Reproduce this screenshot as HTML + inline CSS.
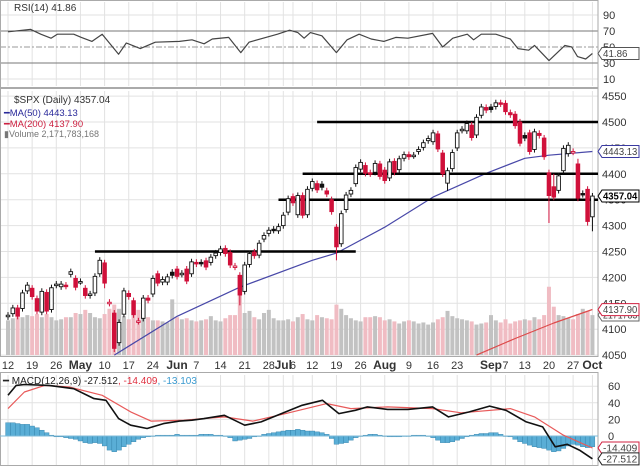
<!DOCTYPE html>
<html><head><meta charset="utf-8"><style>
html,body{margin:0;padding:0;background:#fff;}
svg{display:block;font-family:"Liberation Sans",sans-serif;}
</style></head><body>
<svg id="chart" width="640" height="466" viewBox="0 0 640 466" xmlns="http://www.w3.org/2000/svg">
<rect x="0" y="0" width="640" height="466" fill="#fff"/>
<g id="grid"></g>
<g id="vol"></g>
<g id="price"></g>
<g id="lines"></g>
<g id="labels"></g>
</svg>
<script>
const closes=[4127,4141,4125,4170,4185,4163,4135,4173,4135,4180,
4187,4187,4183,4211,4181,4192,4165,4168,4202,4233,
4189,4152,4063,4113,4174,4163,4128,4116,4160,4156,
4198,4189,4196,4201,4204,4202,4208,4193,4230,4226,
4227,4220,4239,4247,4255,4246,4224,4222,4166,4224,
4246,4242,4266,4281,4291,4291,4298,4320,4352,4344,
4358,4320,4370,4385,4369,4374,4361,4327,4259,4323,
4359,4368,4412,4422,4401,4400,4420,4395,4387,4423,
4403,4429,4437,4433,4436,4447,4460,4468,4479,4448,
4400,4406,4441,4479,4486,4497,4470,4509,4529,4523,
4524,4537,4535,4520,4514,4493,4459,4469,4443,4481,
4474,4433,4358,4355,4396,4449,4455,4443,4353,4360,
4308,4357];
const opens=[4124,4130,4141,4140,4174,4179,4159,4133,4171,4138,
4185,4182,4185,4206,4198,4192,4179,4165,4170,4207,
4228,4150,4131,4074,4129,4169,4155,4115,4121,4160,
4168,4207,4191,4191,4210,4216,4206,4216,4207,4229,
4229,4232,4229,4242,4248,4256,4248,4220,4204,4173,
4225,4249,4243,4274,4285,4293,4290,4300,4326,4356,
4321,4358,4321,4372,4381,4380,4367,4350,4297,4265,
4331,4361,4381,4409,4416,4402,4403,4419,4407,4392,
4424,4408,4430,4437,4435,4443,4451,4464,4462,4477,
4440,4382,4410,4450,4484,4483,4494,4475,4513,4528,
4529,4530,4537,4536,4518,4515,4500,4474,4479,4447,
4478,4469,4402,4375,4368,4406,4439,4442,4419,4362,
4370,4317];
const upWick=[6,6,6,6,6,6,6,6,6,6, 6,6,6,6,6,6,6,6,6,6, 6,6,6,6,6,6,6,6,6,6, 6,6,6,6,6,6,6,6,6,6, 6,6,6,6,6,6,6,6,6,6,
6,6,6,6,6,6,6,6,6,6, 6,6,6,6,6,6,6,6,6,6, 6,6,6,6,6,6,6,6,6,6, 6,6,6,6,6,6,6,6,6,6, 6,6,6,6,6,6,6,6,6,6,
6,6,6,6,6,6,6,6,6,6, 6,6,6,25,6,6,6,6,10,6, 6,6];
const loWick=[6,6,6,6,6,6,6,6,6,6, 6,6,6,6,6,6,6,6,6,6, 10,6,7,6,6,6,6,6,6,6, 6,6,6,6,6,6,6,6,6,6, 6,6,6,6,6,6,6,6,20,6,
6,6,6,6,6,6,6,6,6,6, 6,6,6,6,6,6,6,6,26,6, 6,6,6,6,6,6,6,6,6,6, 6,6,6,6,6,6,6,6,6,6, 6,15,6,6,6,6,6,6,6,6,
6,6,6,6,6,6,6,6,6,6, 6,6,53,6,6,6,6,6,6,6, 8,28];
const volumes=[3.3,3.5,3.6,3.6,3.8,3.7,3.9,3.6,3.9,3.6,3.3,3.4,3.6,3.6,4.0,
3.9,4.3,4.0,3.6,3.5,3.9,4.4,4.8,4.4,3.7,3.4,3.8,4.3,3.9,3.6,3.3,3.3,3.2,3.1,5.3,
3.6,3.4,3.5,3.3,3.2,3.3,3.4,3.7,3.3,3.2,3.5,3.8,3.8,6.4,4.0,4.2,3.6,3.4,4.0,4.3,3.5,3.3,3.3,
3.4,3.2,3.6,3.9,3.4,3.3,3.8,3.6,3.5,3.4,4.8,4.4,3.8,3.5,3.3,3.2,3.6,3.6,3.7,3.6,3.3,3.4,3.2,
3.0,3.2,3.3,3.2,3.0,3.1,2.9,3.1,3.4,3.6,4.2,3.7,3.5,3.4,3.3,3.2,2.9,3.0,3.1,3.8,
3.3,3.1,3.4,3.0,3.2,3.3,3.4,3.3,3.6,3.4,3.8,6.5,4.6,3.8,3.7,3.5,3.4,3.9,4.4,4.2,3.8];
const ma50Idx=[22,35,48,63,68,78,88,99,107,112,121];
const ma50Val=[4050,4125,4181,4233,4247,4297,4355,4401,4430,4436,4443];
const ma200Idx=[97,105,113,121];
const ma200Val=[4050,4082,4112,4138];
const rsiIdx=[0,4.7,6.8,8.9,10.2,13.6,15.2,17.4,19.5,22.9,24.5,27.4,30.5,35.5,38.1,40.6,42.3,45.7,48.2,49.9,55.8,58.3,60,61.3,62.6,65,68,70.2,72.7,75.2,77.8,80.3,82.8,87.9,90,92.1,95.1,96.4,98,101,104,105.6,107.8,109,112,115.3,116.7,117.9,119.6,121];
const rsiVal=[69,72,66,61,66,66,62,57,66,41,55,48,56,57,59,54,60,62,43,56,66,71,68,61,68,64,43,59,66,60,57,62,61,67,50,61,66,59,66,66,60,48,46,52,33,52,50,38,35,41.86];
const macdIdx=[0,1.7,3.4,8.5,13.6,17.8,20.3,22.9,25.4,28.8,32.2,35.5,38.1,40.6,44.8,49,52.4,57.5,60.9,65.1,68.5,71.9,74.4,78.6,82.8,87.9,91.2,95.5,99.7,103.1,107.3,110.7,113.3,115.8,118.3,121];
const macdVal=[49,61,62,61,57,45,43,21,13,9,15,18,19,21,25,13,17,29,37,43,27,31,35,32,32,35,23,29,36,31,17,11,-13,-10,-17,-27.5];
const sigIdx=[0,3.4,7.6,12.7,19.5,25.4,29.6,36.4,44.8,50.7,57.5,66,71,78.6,87.9,93.8,104,109,115,121];
const sigVal=[33,53,61,59,49,29,18,19,23,18,27,39,33,35,33,28,33,23,1,-14.4];
const histVals=[16,16,15,14,14,12,10, 7,4,1,-1,-1,-2, -3,-4,-6,-8,-9,-8,-9, -12,-17,-19,-17,-13,-10, -7,-4,-2,-1,0,
1,1,1,1,2,1,1,1,1,2,2,2,1,1,0,-2,-6,-5,-4,-3, -1,0,2,3,4,5, 6,7,7,8,7,6,6,5,4,2, -3,-10,-9,-8,-5,-2,0,
1,2,2,1,0,-1,-1,-1,0,0,1,1,1,0, -2,-5,-8,-8,-7,-5,-3,-1, 1,2,3,3,4,4,2,0,-1,
-4,-7,-9,-11,-13,-14,-15,-17,-19,-18,-15,-12,-10,-11,-13,-14,-13];
const dateLabels=["12","19","26","May","10","17","24","Jun","7","14","21","28","Jul","6","12","19","26","Aug","9","16","23","Sep","7","13","20","27","Oct"];
const dateIdx=[0,5,10,15,20,25,30,35,39,44,49,54,57,59,63,68,73,78,83,88,93,100,103,107,112,117,121];
const priceTicks=[4550,4500,4450,4400,4350,4300,4250,4200,4150,4100,4050];
const rsiTicks=[90,70,50,30,10];
const macdTicks=[60,40,20,0];
const supportLevels=[4500,4400,4350,4250];
const supportFrom=[64,61,56,18];
const supportTo=[123,123,123,72];

const NS="http://www.w3.org/2000/svg";
const X=i=>8+i*4.83;
const PY=p=>122+(4500-p)*0.518;
const RY=v=>31+(70-v)*0.8;
const MY=v=>436-v*0.83;
const VY=v=>355-v*10.5;
function el(tag,attrs,parent,text){const e=document.createElementNS(NS,tag);for(const k in attrs)e.setAttribute(k,attrs[k]);if(text!==undefined)e.textContent=text;parent.appendChild(e);return e;}
const grid=document.getElementById('grid'),vol=document.getElementById('vol'),price=document.getElementById('price'),lines=document.getElementById('lines'),labels=document.getElementById('labels');

dateIdx.forEach(i=>{
  [[2,86],[91,355],[375,466]].forEach(r=>{const l=el('line',{x1:X(i),x2:X(i),y1:r[0],y2:r[1],stroke:'#e2e2e2','stroke-width':1},grid);
  
  });
});
priceTicks.forEach(p=>{const l=el('line',{x1:0,x2:598,y1:PY(p),y2:PY(p),stroke:'#e2e2e2'},grid);

});
rsiTicks.forEach(v=>{const l=el('line',{x1:0,x2:598,y1:RY(v),y2:RY(v),stroke:(v==70||v==30)?'#777':(v==50?'#999':'#e2e2e2'),'stroke-dasharray':v==50?'6,2,2,2':'none'},grid);

});
macdTicks.forEach(v=>{const l=el('line',{x1:0,x2:598,y1:MY(v),y2:MY(v),stroke:'#e2e2e2'},grid);

});
[[0,88],[88,357],[372,466]].forEach(r=>{const f=el('rect',{x:0.5,y:r[0]+0.5,width:597.5,height:r[1]-r[0]-1,fill:'none',stroke:'#aaa'},grid);

});

volumes.forEach((v,i)=>{const down=i>0&&closes[i]<closes[i-1];
 const r=el('rect',{x:X(i)-2,y:VY(v),width:4,height:355-VY(v),fill:down?'#f0bcc3':'#c2c2c2'},vol);
 
 });

function poly(idx,val,yf,color,w,parent){const pts=idx.map((i,k)=>X(i).toFixed(1)+','+yf(val[k]).toFixed(1)).join(' ');
 return el('polyline',{points:pts,fill:'none',stroke:color,'stroke-width':w,'stroke-linejoin':'round'},parent);}
const m50=poly(ma50Idx,ma50Val,PY,'#4848a8',1.2,vol);


const m200=poly(ma200Idx,ma200Val,PY,'#dd4a4a',1.2,vol);



supportLevels.forEach((p,k)=>{const l=el('line',{x1:X(supportFrom[k]),x2:Math.min(598,X(supportTo[k])),y1:PY(p),y2:PY(p),stroke:'#000','stroke-width':2.5},price);

});

closes.forEach((c,i)=>{const o=opens[i];const down=i>0&&c<closes[i-1];const col=down?'#d0103a':'#111';
 const hi=Math.max(o,c)+upWick[i],lo=Math.min(o,c)-loWick[i];
 const g=el('g',{},price);
 
 
 el('line',{x1:X(i),x2:X(i),y1:PY(hi),y2:PY(lo),stroke:col,'stroke-width':1},g);
 const top=PY(Math.max(o,c)),h=Math.max(1.5,Math.abs(PY(o)-PY(c)));
 el('rect',{x:X(i)-1.8,y:top,width:3.6,height:h,fill:c>=o?'#fff':col,stroke:col,'stroke-width':0.9},g);
});

const rl=poly(rsiIdx,rsiVal,RY,'#444',1.2,lines);


histVals.forEach((h,i)=>{const y0=MY(0),y1=MY(h);
 const r=el('rect',{x:X(i)-2.4,y:Math.min(y0,y1),width:4.8,height:Math.abs(y1-y0)||0.5,fill:'#5aaed6',stroke:'#2f7fa8','stroke-width':0.4},lines);
 
 });
const zl=el('line',{x1:0,x2:598,y1:MY(0),y2:MY(0),stroke:'#7fbbd8'},lines);


const sl=poly(sigIdx,sigVal,MY,'#e85a5a',1.2,lines);


const ml=poly(macdIdx,macdVal,MY,'#111',1.6,lines);



function txt(x,y,s,attrs,name){const t=el('text',Object.assign({x:x,y:y,'font-size':11,fill:'#333'},attrs||{}),labels,s);
 
 return t;}
priceTicks.forEach(p=>txt(602,PY(p)+4,String(p),{},'price-tick-label'));
rsiTicks.forEach(v=>txt(603,RY(v)+4,String(v),{},'rsi-tick-label'));
macdTicks.forEach(v=>txt(608,MY(v)+4,String(v),{},'macd-tick-label'));
dateLabels.forEach((s,k)=>{const bold=/[A-Z]/.test(s);txt(X(dateIdx[k]),369,s,{'text-anchor':'middle','font-weight':bold?'bold':'normal','font-size':bold?12:11},'date-label');});
function tag(y,s,color,bold,name){const g=el('g',{},labels);
 
 
 el('path',{d:`M598 ${y} L602 ${y-6} L639 ${y-6} L639 ${y+6} L602 ${y+6} Z`,fill:'#fff',stroke:color,'stroke-width':1},g);
 el('text',{x:603,y:y+3.5,'font-size':10,'font-weight':bold?'bold':'normal',fill:bold?'#000':'#444',textLength:(s.length*4.9).toFixed(1),lengthAdjust:'spacingAndGlyphs'},g,s);}
tag(RY(41.86),'41.86','#555',false,'rsi-value-tag');
tag(PY(4443.13),'4443.13','#3a3aa0',false,'ma50-value-tag');
tag(315,'2171783','#666',false,'volume-value-tag');
tag(PY(4137.9),'4137.90','#d02040',false,'ma200-value-tag');
tag(PY(4357.04),'4357.04','#000',true,'price-value-tag');
tag(MY(-14.409),'-14.409','#d02040',false,'macd-signal-tag');
tag(MY(-27.512),'-27.512','#222',false,'macd-value-tag');
txt(14,11,'RSI(14) 41.86',{'font-size':10},'rsi-legend');
txt(14,103,'$SPX (Daily) 4357.04',{'font-size':10},'price-legend');
txt(4,116,'━MA(50) 4443.13',{'font-size':9.5,fill:'#2a2a9a'},'ma50-legend');
txt(4,127,'━MA(200) 4137.90',{'font-size':9.5,fill:'#cc2040'},'ma200-legend');
txt(4,137,'▮Volume 2,171,783,168',{'font-size':9,fill:'#777'},'volume-legend');
const ml2=txt(3,384,'',{'font-size':10},'macd-legend');
[['━ MACD(12,26,9) -27.512','#222'],[', -14.409','#e03040'],[', -13.103','#3a9ad0']].forEach(a=>{el('tspan',{fill:a[1]},ml2,a[0]);});
</script>
</body></html>
